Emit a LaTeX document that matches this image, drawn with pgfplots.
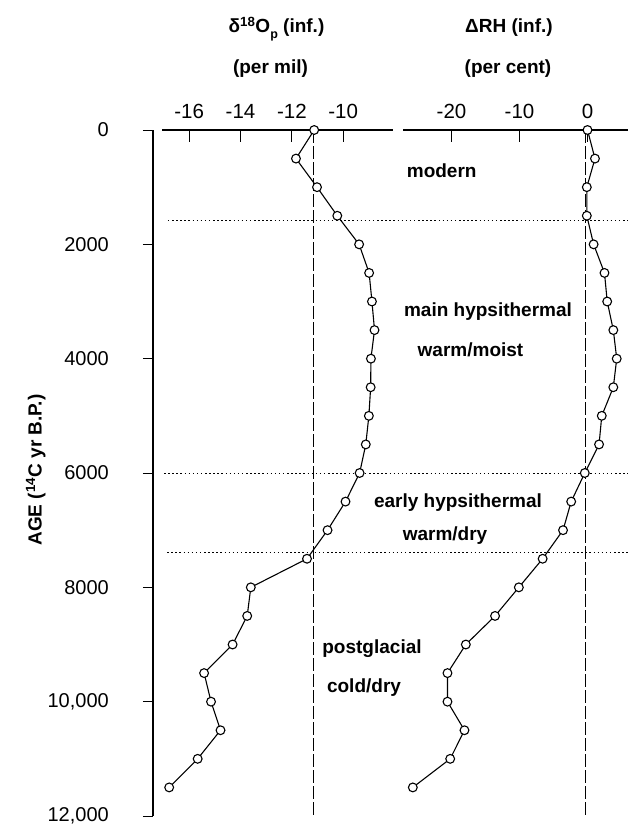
\documentclass[border=0pt]{standalone}
\usepackage{fontspec}
\setmainfont{Liberation Sans}
\usepackage{pgfplots}
\pgfplotsset{compat=1.18}
\usepackage{pgfplotstable}

\pgfplotstableread{
age d18O dRH
0 -11.13 0.0
500 -11.84 1.1
1000 -11.02 -0.1
1500 -10.23 -0.1
2000 -9.38 0.9
2500 -8.99 2.5
3000 -8.88 2.9
3500 -8.78 3.8
4000 -8.92 4.3
4500 -8.93 3.8
5000 -9.00 2.1
5500 -9.12 1.7
6000 -9.36 -0.4
6500 -9.91 -2.4
7000 -10.61 -3.6
7500 -11.41 -6.6
8000 -13.60 -10.1
8500 -13.74 -13.6
9000 -14.31 -17.9
9500 -15.42 -20.6
10000 -15.15 -20.6
10500 -14.78 -18.1
11000 -15.67 -20.2
11500 -16.78 -25.7
}\data

\pgfplotsset{
  panel/.style={
    scale only axis, height=686pt, ymin=0, ymax=12000, y dir=reverse,
    axis y line=none, axis x line*=top, clip=false,
    tick align=inside, major tick length=12pt,
    tick style={line width=1pt, black},
    axis line style={line width=1.4pt, -},
    xticklabel style={anchor=base, inner sep=0pt, yshift=12pt, font=\fontsize{20.5}{20.5}\selectfont},
  },
  series/.style={black, line width=1.1pt, mark=*, mark size=4.4pt,
    mark options={fill=white, line width=1.1pt, solid}},
}
\tikzset{
  refdash/.style={line width=0.9pt, dash pattern=on 13pt off 3pt},
  refdot/.style={line width=1pt, dash pattern=on 1.5pt off 2.6pt},
}

\begin{document}
\begin{tikzpicture}[x=1pt,y=1pt]
\useasboundingbox (0,0) rectangle (628,827);

% age axis
\begin{axis}[at={(153pt,11pt)}, anchor=south west, scale only axis,
  width=10pt, height=686pt, xmin=0, xmax=1, ymin=0, ymax=12000, y dir=reverse,
  axis x line=none, axis y line=left, scaled y ticks=false,
  ytick={0,2000,4000,6000,8000,10000,12000},
  yticklabels={0,2000,4000,6000,8000,{10,000},{12,000}},
  tick align=outside, major tick length=10pt,
  tick style={line width=1pt, black},
  axis line style={line width=1.3pt, -},
  yticklabel style={anchor=east, inner sep=0pt, xshift=-34pt, font=\fontsize{20}{20}\selectfont}]
\end{axis}

% delta 18O panel
\begin{axis}[panel, at={(162pt,11pt)}, anchor=south west, width=231pt,
  xmin=-17.06, xmax=-8.06,
  xtick={-16,-14,-12,-10}, xticklabels={-16,-14,-12,-10}]
\draw[refdash] (axis cs:-11.15,0) -- (axis cs:-11.15,12000);
\draw[refdot] (axis cs:-16.83,1580) -- (axis cs:1.09,1580);
\draw[refdot] (axis cs:-16.98,6000) -- (axis cs:1.09,6000);
\draw[refdot] (axis cs:-16.86,7390) -- (axis cs:1.09,7390);
\addplot[series] table[x=d18O, y=age] {\data};
\end{axis}

% delta RH panel
\begin{axis}[panel, at={(403.3pt,11pt)}, anchor=south west, width=224.7pt,
  xmin=-27.1, xmax=5.96,
  xtick={-20,-10,0}, xticklabels={-20,-10,0}]
\draw[refdash] (axis cs:-0.3,0) -- (axis cs:-0.3,12000);
\addplot[series] table[x=dRH, y=age] {\data};
\end{axis}

% titles
\begin{scope}[every node/.style={font=\fontsize{19}{19}\selectfont\bfseries, inner sep=0pt}]
\node[anchor=base] at (276.5,794) {δ\textsuperscript{18}O\raisebox{-0.5ex}{\fontsize{12.5}{12.5}\selectfont p} (inf.)};
\node[anchor=base] at (270.5,753) {(per mil)};
\node[anchor=base] at (509,794) {ΔRH (inf.)};
\node[anchor=base] at (508,753) {(per cent)};
\node[anchor=base, rotate=90] at (41.5,357) {AGE (\textsuperscript{14}C yr B.P.)};
\node[anchor=base] at (441.7,649) {modern};
\node[anchor=base] at (488,510) {main hypsithermal};
\node[anchor=base] at (470.5,470) {warm/moist};
\node[anchor=base] at (458,319) {early hypsithermal};
\node[anchor=base] at (445,286) {warm/dry};
\node[anchor=base] at (372,173) {postglacial};
\node[anchor=base] at (364,134) {cold/dry};
\end{scope}
\end{tikzpicture}
\end{document}
